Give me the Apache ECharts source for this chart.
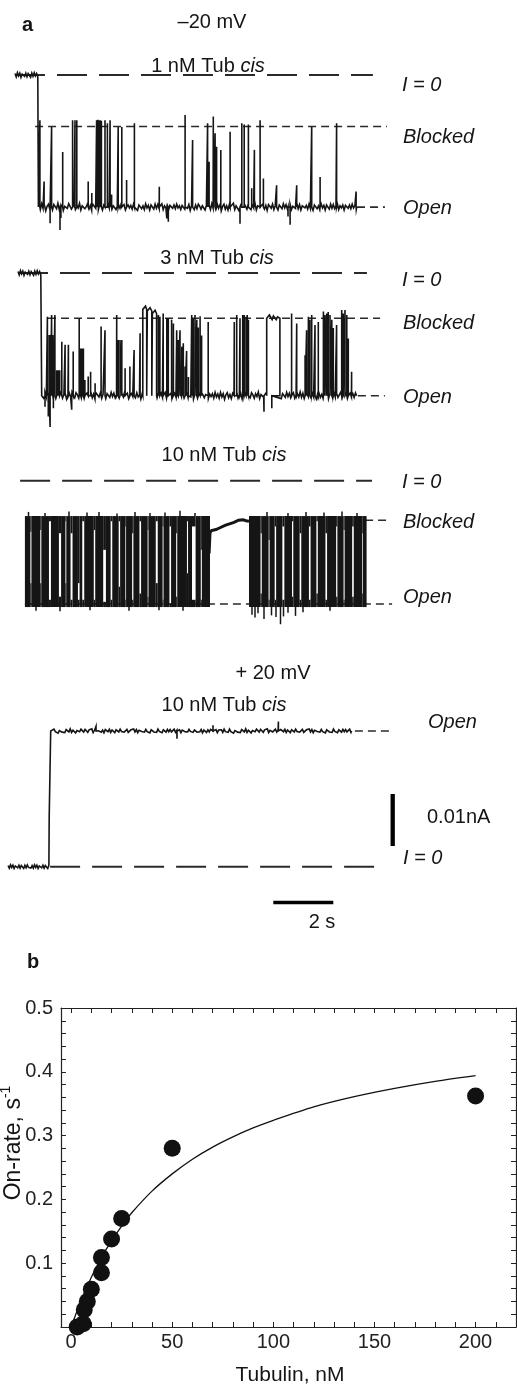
<!DOCTYPE html>
<html><head><meta charset="utf-8">
<script src="https://cdn.jsdelivr.net/npm/echarts@6/dist/echarts.min.js"></script>
<style>html,body{margin:0;padding:0;background:#fff}#c{width:517px;height:1385px}</style>
</head><body><div id="c"></div>
<script>
// ================= DATA =================
// ---- Panel b: on-rate vs tubulin concentration ----
const tubulinNM = [3, 6, 6.5, 8, 10, 15, 15, 20, 25, 50, 200];
const onRate    = [0.000, 0.005, 0.027, 0.040, 0.059, 0.085, 0.109, 0.138, 0.170, 0.280, 0.362];
const fitTubulin = [0, 5, 10, 15, 20, 25, 30, 40, 50, 60, 70, 80, 90, 100, 120, 140, 160, 180, 200];
const fitOnRate  = [0, 0.042, 0.078, 0.109, 0.135, 0.158, 0.179, 0.213, 0.240, 0.263, 0.282, 0.298, 0.312, 0.324, 0.345, 0.361, 0.374, 0.385, 0.394];
const xTickLabels = [0, 50, 100, 150, 200];
const xTicks = [0,10,20,30,40,50,60,70,80,90,100,110,120,130,140,150,160,170,180,190,200,210,220];
const yTickLabels = [0.1, 0.2, 0.3, 0.4, 0.5];
const yTicks = [0,0.02,0.04,0.06,0.08,0.1,0.12,0.14,0.16,0.18,0.2,0.22,0.24,0.26,0.28,0.3,0.32,0.34,0.36,0.38,0.4,0.42,0.44,0.46,0.48,0.5];

// ---- Panel a: current traces (time in s, current in pA) ----
// levels: [I=0, blocked, open]
const trace1Levels = [0, -9.9, -25.4];
const trace2Levels = [0, -8.7, -23.6];
const trace3Levels = [0, -7.6, -23.7];
const trace4Levels = [0, 26.1];
// [start, channel opens, end]
const trace1Times = [0.5, 1.28, 11.89];
const trace2Times = [0.6, 1.39, 11.89];
const trace3Times = [0.83, 12.22];
const trace4Times = [0.27, 1.64, 1.69, 11.72];
const trace4Intermediate = 9.6;

// trace 1 (1 nM): brief blocking events [t, peak current]
const trace1Spikes = [[1.33,-8.7],[1.47,-20.5],[1.72,-10.0],[2.09,-14.8],[2.42,-8.7],[2.5,-8.7],[2.56,-8.7],[2.94,-20.5],[3.06,-22.7],
  [3.22,-8.7],[3.24,-9.0],[3.26,-8.6],[3.28,-8.9],[3.30,-8.7],[3.32,-9.2],[3.34,-8.7],[3.36,-9.0],[3.38,-8.8],
  [3.5,-8.7],[3.58,-9.3],[3.67,-8.7],[3.72,-23.0],[3.94,-10.0],[4.06,-10.0],[4.22,-20.2],[4.48,-9.3],[5.31,-21.5],
  [6.17,-7.7],[6.42,-12.5],[6.92,-9.3],[6.97,-16.7],[7.11,-8.0],[7.17,-11.2],[7.22,-13.8],[7.36,-14.4],[7.67,-10.9],
  [8.06,-9.3],[8.14,-9.5],[8.28,-9.5],[8.39,-21.8],[8.48,-14.4],[8.67,-8.7],[8.78,-19.9],[9.22,-21.2],[9.89,-21.2],
  [10.39,-10.0],[10.67,-19.6],[11.22,-9.3],[11.87,-22.4],
  [1.67,-28.5],[2.0,-29.8],[2.03,-27.5],[5.56,-27.6],[5.61,-28.2],[8.0,-28.6],[9.6,-27.2],[9.67,-28.8]];
const trace1Dwells = [];

// trace 2 (3 nM)
const trace2Spikes = [[1.5,-25.7],[1.61,-27.6],[1.67,-29.6],[1.78,-26.0],
  [1.58,-8.4],[1.64,-11.9],[1.69,-11.9],[1.72,-8.1],[1.76,-11.9],[1.83,-8.1],[1.89,-18.7],[1.92,-18.7],[1.96,-18.7],[1.99,-18.7],
  [2.06,-13.2],[2.17,-13.8],[2.28,-13.8],[2.44,-15.1],[2.64,-8.7],[2.69,-14.5],[2.73,-14.5],[2.78,-14.5],[2.83,-20.6],[2.94,-19.9],
  [3.02,-19.0],[3.17,-21.2],[3.37,-10.3],[3.5,-11.0],[3.89,-8.1],[3.94,-12.9],[4.0,-12.9],[4.06,-12.9],[4.17,-18.3],[4.33,-18.0],
  [4.47,-14.8],[4.67,-11.6],
  [5.28,-8.1],[5.33,-8.4],[5.44,-7.8],[5.56,-8.7],[5.61,-8.7],[5.72,-9.0],[5.78,-9.7],[5.89,-11.0],[5.94,-12.9],[6.0,-11.0],
  [6.06,-14.2],[6.11,-13.5],[6.17,-18.0],[6.22,-15.0],[6.28,-20.0],[6.39,-8.1],[6.44,-8.7],[6.5,-8.1],[6.56,-9.0],[6.61,-10.5],
  [6.67,-8.3],[6.72,-12.0],[6.94,-9.4],[7.81,-9.4],[7.89,-8.1],[8.0,-8.7],[8.09,-8.1],[8.14,-8.1],[8.2,-8.4],[8.24,-8.1],[8.28,-9.0],
  [8.8,-26.7],[9.72,-7.8],[9.89,-9.7],[10.17,-15.8],[10.22,-11.0],[10.28,-8.4],[10.33,-9.0],[10.39,-8.1],[10.5,-10.0],[10.61,-9.4],
  [10.78,-7.4],[10.83,-8.1],[10.89,-7.8],[10.94,-7.5],[11.0,-8.1],[11.06,-9.0],[11.11,-10.6],[11.22,-10.0],[11.39,-7.1],[11.44,-7.8],
  [11.5,-7.1],[11.56,-8.1],[11.61,-12.6],[11.72,-19.0],[2.39,-26.3],[9.06,-26.0]];
// long blocked dwells [t0, t1, current]
const trace2Dwells = [[4.76,4.89,-7.0],[4.91,5.06,-7.3],[5.08,5.22,-7.8],[8.89,9.33,-8.7]];

// trace 3 (10 nM): rapid flicker band; white windows [t0, t1, Itop, Ibottom]
const trace3Band = [-6.8, -24.3];
const trace3Gaps = [[1.012,1.048,-9.8,-19.7],[1.342,1.378,-9.5,-19.7],[1.632,1.698,-7.8,-22.9],[1.964,2.036,-10.1,-22.3],[2.18,2.21,-7.8,-19.7],
  [2.352,2.418,-10.1,-22.9],[2.598,2.652,-19.7,-22.9],[2.742,2.808,-7.8,-22.9],[3.126,3.174,-9.5,-22.9],[3.44,3.53,-13.3,-23.3],
  [3.688,3.742,-7.8,-22.9],[3.956,4.004,-7.8,-20.4],[4.178,4.202,-8.8,-22.9],[4.404,4.446,-10.1,-22.9],[4.648,4.702,-7.8,-21.7],
  [4.92,4.95,-9.5,-22.3],[5.192,5.258,-7.8,-19.7],[5.42,5.45,-8.8,-22.9],[5.648,5.702,-8.8,-23.6],[5.872,5.908,-10.1,-22.3],
  [6.232,6.268,-7.8,-17.8],[6.40,6.52,-8.8,-22.9],[6.692,6.728,-13.3,-22.9],[7.00,8.30,-6.5,-24.5],[8.684,8.726,-10.1,-21.7],
  [8.952,8.988,-11.4,-22.9],[9.156,9.204,-8.8,-22.9],[9.412,9.478,-8.8,-22.9],[9.734,9.776,-7.8,-22.3],[9.988,10.042,-10.1,-22.9],
  [10.298,10.352,-8.8,-22.9],[10.546,10.594,-7.8,-21.7],[10.848,10.902,-10.1,-22.9],[11.204,11.246,-8.8,-22.3],[11.452,11.488,-9.5,-22.9],
  [11.738,11.792,-8.8,-22.3],[12.068,12.092,-10.1,-21.7]];
const trace3BlockedDwell = [[6.97,-14.0],[7.0,-10.0],[7.05,-9.6],[7.2,-9.4],[7.35,-9.0],[7.5,-8.6],[7.65,-8.3],[7.8,-8.0],[7.95,-7.6],[8.1,-7.5],[8.2,-7.7],[8.3,-7.8]];
const trace3Spikes = [[0.95,-6.0],[1.5,-6.2],[2.3,-5.9],[2.9,-6.1],[3.3,-6.0],[3.9,-6.3],[4.5,-6.0],[5.0,-6.2],[5.5,-6.1],[6.0,-5.8],
  [6.5,-6.2],[8.9,-6.0],[9.6,-6.2],[10.2,-6.0],[10.8,-6.1],[11.4,-5.9],[11.9,-6.2],
  [1.2,-25.0],[2.0,-25.1],[3.0,-24.9],[4.3,-25.0],[5.3,-24.9],[6.1,-25.0],[8.4,-25.8],[8.5,-26.3],[8.6,-25.5],[8.8,-26.6],
  [9.05,-25.9],[9.2,-26.2],[9.35,-27.6],[9.45,-26.1],[9.6,-25.4],[9.85,-26.0],[10.1,-25.3],[11.0,-25.0]];

// trace 4 (+20 mV)
const trace4Spikes = [[9.28, 27.9], [5.9, 24.6], [3.2, 27.0], [7.1, 27.2]];

// baseline noise samples (pA)
const baselineNoise = [0.4,-0.6,0.8,-0.3,0.5,-0.9,0.2,0.7,-0.5,0.3,-0.7,0.6,0.1,-0.4,0.9,-0.6,0.3,0.5,-0.8,0.2,0.6,-0.3,0.8,0.4,-0.5,
  0.7,0.2,-0.6,0.5,-0.2,0.9,-0.7,0.3,0.6,-0.4,0.1,0.8,-0.5,0.4,-0.8,0.6,0.2,-0.3,0.7,-0.6,0.4,0.1,-0.7,0.5,0.3,-0.4,0.8,-0.2,0.6,
  -0.5,0.3,0.7,-0.6,0.2,0.5,-0.3,0.9,-0.4,0.6,-0.7,0.3,0.5,-0.2,0.4,-0.5,0.7,-0.3,0.2,-0.8,0.5,0.6,-0.4,0.3,-0.6,0.8,-0.2,0.4,
  -0.7,0.5,0.1,-0.5,0.7,-0.3,0.6,-0.4,0.2,0.8,-0.6,0.3,-0.2,0.5,-0.7,0.4,0.6,-0.3,0.5,-0.4,0.7,-0.2,0.3,-0.6,0.4,0.8,-0.5,0.2,
  -0.3,0.6,-0.8,0.4,0.1,-0.6,0.5,-0.4,0.7,0.2,-0.5,0.3,0.6,-0.7,0.4,-0.2,0.5,-0.6,0.8,-0.3];
const preNoise = [0.3,-0.4,0.5,-0.2,0.4,-0.5,0.2,0.5,-0.3,0.4,-0.4,0.3,0.1,-0.5,0.4,-0.3,0.5,-0.2,0.3,-0.4];

// scale bars
const scaleBarCurrentPA = 10;   // 0.01 nA
const scaleBarTimeS = 2;

// ================= LAYOUT / BUILD =================
const FONT = '"Liberation Sans", Arial, Helvetica, sans-serif';
const INK = '#151515';
const W = 517, PXPA = 5.2, PXS = 30, TMAX = W / PXS;
const zeroPx = [75, 273, 480.7, 866.7];
const yRange = [[-32, 5], [-32, 5], [-32, 5], [-10, 32]];
const NSTEP = 0.045;

function buildTrace(times, base, spikes, dwells, noiseScale) {
  const [start, drop, end] = times;
  const out = [];
  let k = 0;
  for (let t = start; t < drop; t += 0.04) out.push([t, 0.9 * preNoise[k++ % preNoise.length]]);
  out.push([drop, 0]);
  out.push([drop, base]);
  const ev = [];
  spikes.forEach(s => ev.push({ t: s[0], p: [[s[0], base], [s[0], s[1]], [s[0], base]] }));
  dwells.forEach(d => {
    const p = [[d[0], base], [d[0], d[2]]];
    let j = 0;
    for (let t = d[0] + NSTEP; t < d[1]; t += NSTEP) p.push([t, d[2] + 0.9 * baselineNoise[(j++ * 7) % baselineNoise.length]]);
    p.push([d[1], d[2]], [d[1], base]);
    ev.push({ t: d[0], p });
  });
  for (let i = 0; ; i++) {
    const t = drop + 0.02 + i * NSTEP;
    if (t >= end) break;
    if (dwells.some(d => t > d[0] - 0.01 && t < d[1] + 0.01)) continue;
    ev.push({ t, p: [[t, base + noiseScale * baselineNoise[i % baselineNoise.length]]] });
  }
  ev.sort((a, b) => a.t - b.t);
  ev.forEach(e => e.p.forEach(q => out.push(q)));
  out.push([end, base]);
  return out;
}

const t1 = buildTrace(trace1Times, trace1Levels[2], trace1Spikes, trace1Dwells, 0.8);
const t2 = buildTrace(trace2Times, trace2Levels[2], trace2Spikes, trace2Dwells, 0.8);

// trace 4
const t4 = [];
{
  let k = 0;
  for (let t = trace4Times[0]; t < trace4Times[1]; t += 0.04) t4.push([t, 0.7 * preNoise[k++ % preNoise.length]]);
  t4.push([trace4Times[1], 0], [trace4Times[1], trace4Intermediate], [trace4Times[2], trace4Intermediate], [trace4Times[2], trace4Levels[1]]);
  const ev = [];
  trace4Spikes.forEach(s => ev.push({ t: s[0], p: [[s[0], trace4Levels[1]], [s[0], s[1]], [s[0], trace4Levels[1]]] }));
  for (let i = 0; ; i++) {
    const t = trace4Times[2] + 0.02 + i * NSTEP;
    if (t >= trace4Times[3]) break;
    ev.push({ t, p: [[t, trace4Levels[1] + 0.45 * baselineNoise[i % baselineNoise.length]]] });
  }
  ev.sort((a, b) => a.t - b.t);
  ev.forEach(e => e.p.forEach(q => t4.push(q)));
  t4.push([trace4Times[3], trace4Levels[1]]);
}

// trace 3 rectangles
const bandTop = trace3Band[0], bandBot = trace3Band[1];
const t3rects = [];
{
  let cur = trace3Times[0];
  trace3Gaps.forEach(g => {
    if (g[0] > cur) t3rects.push([cur, g[0], bandTop, bandBot]);
    if (g[2] < bandTop) t3rects.push([g[0], g[1], bandTop, g[2]]);
    if (g[3] > bandBot) t3rects.push([g[0], g[1], g[3], bandBot]);
    cur = g[1];
  });
  t3rects.push([cur, trace3Times[1], bandTop, bandBot]);
}
const t3spikes = trace3Spikes.map(s => [s[0], s[1] > bandTop ? bandTop : bandBot, s[1]]);

const grids = zeroPx.map((z, i) => ({ left: 0, width: W, top: z - yRange[i][1] * PXPA, height: (yRange[i][1] - yRange[i][0]) * PXPA }));
grids.push({ left: 61, top: 1008, width: 455, height: 319 });

const xAxes = zeroPx.map((z, i) => ({ type: 'value', gridIndex: i, min: 0, max: TMAX, show: false }));
const yAxes = zeroPx.map((z, i) => ({ type: 'value', gridIndex: i, min: yRange[i][0], max: yRange[i][1], show: false }));

const axLine = { show: true, onZero: false, lineStyle: { color: '#222', width: 1.2 } };
xAxes.push({ type: 'value', gridIndex: 4, min: -5, max: 220, position: 'bottom', axisLine: axLine,
  axisTick: { show: true, inside: true, length: 5, customValues: xTicks, lineStyle: { color: '#222', width: 1 } },
  axisLabel: { show: true, customValues: xTickLabels, fontSize: 20, color: '#222', fontFamily: FONT, margin: 5 },
  splitLine: { show: false } });
xAxes.push({ type: 'value', gridIndex: 4, min: -5, max: 220, position: 'top', axisLine: axLine,
  axisTick: { show: true, inside: true, length: 5, customValues: xTicks, lineStyle: { color: '#222', width: 1 } },
  axisLabel: { show: false }, splitLine: { show: false } });
yAxes.push({ type: 'value', gridIndex: 4, min: 0, max: 0.5, position: 'left', axisLine: axLine,
  axisTick: { show: true, inside: true, length: 5, customValues: yTicks, lineStyle: { color: '#222', width: 1 } },
  axisLabel: { show: true, customValues: yTickLabels, fontSize: 20, color: '#222', fontFamily: FONT, margin: 8, formatter: v => v.toFixed(1) },
  splitLine: { show: false } });
yAxes.push({ type: 'value', gridIndex: 4, min: 0, max: 0.5, position: 'right', axisLine: axLine,
  axisTick: { show: true, inside: true, length: 5, customValues: yTicks, lineStyle: { color: '#222', width: 1 } },
  axisLabel: { show: false }, splitLine: { show: false } });

const LONG = [30, 12], SHORT = [8, 5];
function hline(g, ta, tb, I, dash, width, z) {
  return { type: 'line', xAxisIndex: g, yAxisIndex: g, data: [[ta, I], [tb, I]], showSymbol: false, silent: true, clip: false,
    lineStyle: { color: '#2a2a2a', width: width, type: dash }, z: z || 1 };
}
function traceLine(g, data, width) {
  return { type: 'line', xAxisIndex: g, yAxisIndex: g, data, showSymbol: false, silent: true, clip: false,
    lineStyle: { color: INK, width: width || 1.4, join: 'miter' }, z: 3 };
}

const series = [
  // trace 1
  hline(0, 0.5, 12.43, trace1Levels[0], LONG, 2),
  hline(0, 1.17, 12.9, trace1Levels[1], SHORT, 1.6),
  hline(0, 11.9, 12.83, trace1Levels[2], SHORT, 1.6),
  traceLine(0, t1, 1.6),
  // trace 2
  hline(1, 0.6, 12.23, trace2Levels[0], LONG, 2),
  hline(1, 1.6, 12.67, trace2Levels[1], SHORT, 1.6),
  hline(1, 11.93, 12.83, trace2Levels[2], SHORT, 1.6),
  traceLine(1, t2, 1.6),
  // trace 3
  hline(2, 0.67, 12.4, trace3Levels[0], LONG, 2),
  hline(2, 12.17, 13.0, trace3Levels[1], SHORT, 1.6),
  hline(2, 0.83, 13.07, trace3Levels[2], SHORT, 1.6),
  { type: 'custom', xAxisIndex: 2, yAxisIndex: 2, data: t3rects, silent: true, clip: false, z: 3,
    encode: { x: [0, 1], y: [2, 3] },
    renderItem: (p, api) => {
      const a = api.coord([api.value(0), api.value(2)]);
      const b = api.coord([api.value(1), api.value(3)]);
      return { type: 'rect', shape: { x: a[0], y: a[1], width: Math.max(b[0] - a[0], 0.5), height: b[1] - a[1] }, style: { fill: INK } };
    } },
  { type: 'custom', xAxisIndex: 2, yAxisIndex: 2, data: t3spikes, silent: true, clip: false, z: 3,
    encode: { x: 0, y: [1, 2] },
    renderItem: (p, api) => {
      const a = api.coord([api.value(0), api.value(1)]);
      const b = api.coord([api.value(0), api.value(2)]);
      return { type: 'line', shape: { x1: a[0], y1: a[1], x2: b[0], y2: b[1] }, style: { stroke: INK, lineWidth: 1.5 } };
    } },
  traceLine(2, trace3BlockedDwell, 3),
  // trace 4
  hline(3, 1.67, 12.5, trace4Levels[0], LONG, 2),
  hline(3, 11.83, 13.1, trace4Levels[1], SHORT, 1.6),
  traceLine(3, t4, 1.6),
  // scale bars
  { type: 'line', xAxisIndex: 3, yAxisIndex: 3, data: [[13.09, 4.0], [13.09, 4.0 + scaleBarCurrentPA]], showSymbol: false, clip: false,
    lineStyle: { color: '#000', width: 4.3, cap: 'butt' }, z: 3 },
  { type: 'line', xAxisIndex: 3, yAxisIndex: 3, data: [[9.11, -6.9], [9.11 + scaleBarTimeS, -6.9]], showSymbol: false, clip: false,
    lineStyle: { color: '#000', width: 3.5, cap: 'butt' }, z: 3 },
  // panel b
  { type: 'line', xAxisIndex: 4, yAxisIndex: 4, data: fitTubulin.map((x, i) => [x, fitOnRate[i]]), smooth: 0.3, showSymbol: false,
    clip: false, lineStyle: { color: '#111', width: 1.3 }, z: 2 },
  { type: 'scatter', xAxisIndex: 4, yAxisIndex: 4, data: tubulinNM.map((x, i) => [x, onRate[i]]), symbol: 'circle', symbolSize: 17,
    clip: false, itemStyle: { color: '#111', opacity: 1 }, z: 3 }
];

function T(x, y, text, size, opt) {
  opt = opt || {};
  return { type: 'text', x, y, silent: true, z: 10, rotation: opt.rot || 0,
    style: { text, fill: INK, fontSize: size, fontFamily: FONT, fontStyle: opt.italic ? 'italic' : 'normal',
      fontWeight: opt.bold ? 'bold' : 'normal', align: opt.align || 'left', verticalAlign: 'middle', rich: opt.rich } };
}
const tubRich = { r: { fontSize: 20, fontFamily: FONT, fill: INK }, i: { fontSize: 20, fontFamily: FONT, fontStyle: 'italic', fill: INK } };
const graphic = [
  T(22, 25, 'a', 20, { bold: true }),
  T(212, 22, '–20 mV', 20, { align: 'center' }),
  T(208, 66, '{r|1 nM Tub }{i|cis}', 20, { align: 'center', rich: tubRich }),
  T(402, 85, 'I = 0', 20, { italic: true }),
  T(403, 137, 'Blocked', 20, { italic: true }),
  T(403, 208, 'Open', 20, { italic: true }),
  T(217, 258, '{r|3 nM Tub }{i|cis}', 20, { align: 'center', rich: tubRich }),
  T(402, 280, 'I = 0', 20, { italic: true }),
  T(403, 323, 'Blocked', 20, { italic: true }),
  T(403, 397, 'Open', 20, { italic: true }),
  T(224, 455, '{r|10 nM Tub }{i|cis}', 20, { align: 'center', rich: tubRich }),
  T(402, 482, 'I = 0', 20, { italic: true }),
  T(403, 522, 'Blocked', 20, { italic: true }),
  T(403, 597, 'Open', 20, { italic: true }),
  T(273, 673, '+ 20 mV', 20, { align: 'center' }),
  T(224, 705, '{r|10 nM Tub }{i|cis}', 20, { align: 'center', rich: tubRich }),
  T(428, 722, 'Open', 20, { italic: true }),
  T(427, 817, '0.01nA', 20),
  T(403, 858, 'I = 0', 20, { italic: true }),
  T(322, 922, '2 s', 20, { align: 'center' }),
  T(27, 962, 'b', 20, { bold: true }),
  T(290, 1375, 'Tubulin, nM', 21, { align: 'center' }),
  { type: 'text', x: 12, y: 1143, rotation: Math.PI / 2, silent: true, z: 10,
    style: { text: '{a|On-rate, s}{s|-1}', align: 'center', verticalAlign: 'middle', fill: INK,
      rich: { a: { fontSize: 23, fontFamily: FONT, fill: INK, verticalAlign: 'bottom', lineHeight: 26 },
              s: { fontSize: 14, fontFamily: FONT, fill: INK, verticalAlign: 'top', lineHeight: 26 } } } }
];

const chart = echarts.init(document.getElementById('c'), null, { renderer: 'canvas' });
chart.setOption({ animation: false, backgroundColor: '#fff', grid: grids, xAxis: xAxes, yAxis: yAxes, series, graphic });
</script></body></html>
